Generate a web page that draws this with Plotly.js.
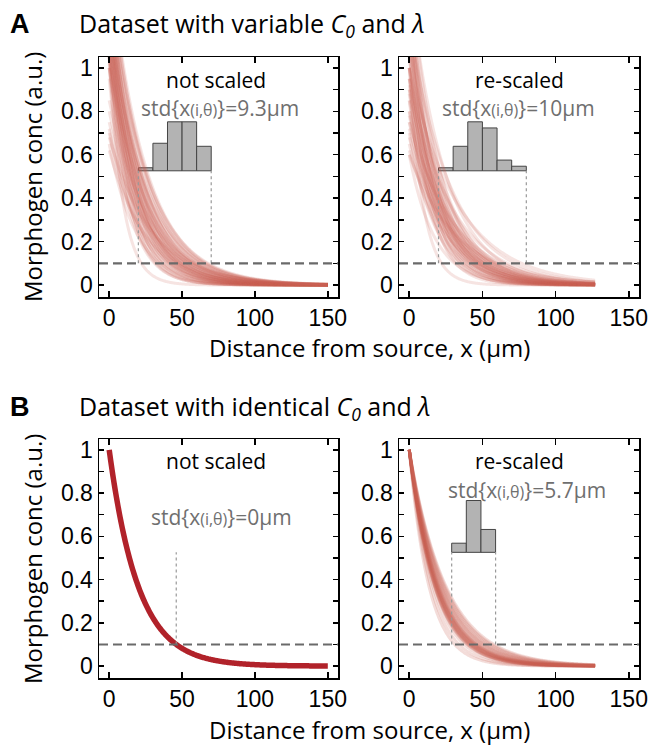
<!DOCTYPE html>
<html>
<head>
<meta charset="utf-8">
<script src="https://cdn.plot.ly/plotly-3.0.1.min.js"></script>
<style>html,body{margin:0;padding:0;background:#fff;}#chart{width:650px;height:746px;}</style>
</head>
<body>
<div id="chart"></div>
<script>
// ---------- data ----------
// Panel A, not scaled: amplitude C0 and decay length lambda of each profile
const A1_C0 = [1.05,0.95,1.10,1.00,1.25,0.65,1.15,1.05,1.30,0.72,1.20,1.00,1.35,0.70,1.10,1.25,1.02,1.40,0.62,1.15,1.30,1.05,1.20,0.75,1.45,1.10,1.00,1.25,1.35,0.80,1.15,1.40,1.05,1.30,0.68,1.20,1.45,1.10,0.85,1.35,1.25,1.05,1.30,1.50,1.15,1.40,1.20,1.45,1.50,1.35];
const A1_lambda = [9.4,13.8,13.3,14.3,13.5,18.7,14.7,15.7,14.8,19.8,16.3,17.8,16.1,21.8,17.9,17.4,19.2,17.1,25.2,19.0,18.3,20.2,19.3,24.1,18.3,20.6,21.9,20.2,19.8,25.0,21.7,20.3,23.0,21.4,29.0,22.5,21.3,24.0,27.1,22.5,23.4,25.3,23.8,22.9,25.8,24.3,26.2,24.7,24.7,26.1];
const A1_xmax = 150;
// Panel A, re-scaled
const A2_C0 = [1.00,0.60,1.10,0.85,1.25,0.70,1.00,0.90,1.30,0.65,1.05,0.80,1.20,0.95,1.40,0.75,1.10,0.88,1.15,0.62,1.30,1.00,0.78,1.25,0.92,1.05,0.68,1.35,0.85,1.20,0.95,0.72,1.45,1.00,0.80,1.15,0.90,1.30,0.60,1.10,0.75,1.40,0.95,1.20,1.00];
const A2_lambda = [9.6,17.3,13.3,15.7,13.9,18.5,16.1,17.3,15.2,21.6,17.4,20.2,17.1,19.1,16.7,22.1,18.8,21.1,19.0,25.8,18.5,20.8,23.6,19.4,22.3,21.5,26.6,19.8,24.3,21.3,23.8,27.4,20.6,24.3,27.4,23.5,26.6,23.0,33.2,25.4,31.3,24.6,29.8,29.0,33.4];
const A2_xmax = 127;
// Panel B, not scaled: identical profiles
const B1_C0 = 1.0;
const B1_lambda = 20.0;
const B1_xmax = 150;
const B1_threshold_x = 46;
// Panel B, re-scaled
const B2_C0 = 1.0;
const B2_lambda = [13.5,14.8,16.3,17.2,17.4,17.6,17.8,18.0,18.2,18.5,18.7,18.9,19.1,19.3,19.5,19.8,20.0,20.2,20.6,21.1,21.7,22.1,22.6,23.2,23.9,24.5,25.2];
const B2_xmax = 127;
// threshold
const threshold = 0.1;
// histograms of threshold positions
const histA1_edges = [20,30,40,50,60,70];
const histA1_counts = [1,9,16,16,8];
const histA2_edges = [20,30,40,50,60,70,80];
const histA2_counts = [1,8,16,14,3.5,1.5];
const histB2_edges = [29,39,49,59];
const histB2_counts = [3,17,7.5];
// texts
const stdTexts = ['9.3','10','0','5.7'];
const panelLabels = ['not scaled','re-scaled','not scaled','re-scaled'];
const xTicks = [0,50,100,150];

// ---------- styling ----------
const histBase = 0.526;
const histScale = 0.0141;
const curveColor = 'rgba(200,96,84,0.17)';
const textFont = 'Open Sans, Noto Sans, sans-serif';
const tickFont = 'Liberation Sans, Arial, sans-serif';

function profile(C0, lam, xmax) {
  const xs = [], ys = [];
  for (let x = 0; x <= xmax; x += 0.5) { xs.push(x); ys.push(C0 * Math.exp(-x / lam)); }
  return {xs, ys};
}

const traces = [];
function addCurves(C0s, lams, xmax, ax, color, width) {
  lams.forEach((lam, i) => {
    const c0 = Array.isArray(C0s) ? C0s[i] : C0s;
    const p = profile(c0, lam, xmax);
    traces.push({type:'scatter', mode:'lines', x:p.xs, y:p.ys, xaxis:'x'+ax, yaxis:'y'+ax,
      line:{color:color, width:width, simplify:false}, hoverinfo:'skip', showlegend:false});
  });
}
addCurves(A1_C0, A1_lambda, A1_xmax, '', curveColor, 3);
addCurves(A2_C0, A2_lambda, A2_xmax, '2', curveColor, 3);
addCurves(B1_C0, [B1_lambda], B1_xmax, '3', '#b1222a', 5.5);
addCurves(B2_C0, B2_lambda, B2_xmax, '4', 'rgba(200,96,84,0.22)', 3);

const shapes = [];
function addHist(edges, counts, ax) {
  const xs = [], ws = [], hs = [];
  for (let i = 0; i < counts.length; i++) {
    xs.push((edges[i] + edges[i+1]) / 2);
    ws.push(edges[i+1] - edges[i]);
    hs.push(counts[i] * histScale);
  }
  traces.push({type:'bar', x:xs, y:hs, width:ws, base:histBase, xaxis:'x'+ax, yaxis:'y'+ax,
    marker:{color:'#b3b3b3', line:{color:'#444', width:1}}, hoverinfo:'skip', showlegend:false});
  [edges[0], edges[edges.length-1]].forEach(e => {
    shapes.push({type:'line', xref:'x'+ax, yref:'y'+ax, x0:e, x1:e, y0:threshold, y1:histBase,
      line:{color:'#999', width:1.2, dash:'3px,3px'}});
  });
}
addHist(histA1_edges, histA1_counts, '');
addHist(histA2_edges, histA2_counts, '2');
addHist(histB2_edges, histB2_counts, '4');
shapes.push({type:'line', xref:'x3', yref:'y3', x0:B1_threshold_x, x1:B1_threshold_x, y0:threshold, y1:histBase,
  line:{color:'#999', width:1.2, dash:'3px,3px'}});

['', '2', '3', '4'].forEach(ax => {
  shapes.push({type:'line', xref:'x'+(ax)+' domain', yref:'y'+ax, x0:0, x1:1, y0:threshold, y1:threshold,
    line:{color:'#6a6a6a', width:2.2, dash:'9px,5px'}});
});

function xAxis(domain, anchor) {
  return {domain:domain, anchor:anchor, range:[-7,157], tickvals:xTicks, ticks:'inside', ticklen:6,
    tickwidth:1.5, tickcolor:'#000', mirror:'allticks', showline:true, linecolor:'#000', linewidth:1.5,
    showgrid:false, zeroline:false, tickfont:{family:tickFont, size:23, color:'#000'}};
}
function yAxis(domain, anchor) {
  return {domain:domain, anchor:anchor, range:[-0.055,1.05], tick0:0, dtick:0.2,
    ticks:'inside', ticklen:5, tickwidth:1.5, tickcolor:'#000', mirror:'allticks', showline:true,
    minor:{tick0:0, dtick:0.1, ticks:'inside', ticklen:5, tickwidth:1.5, tickcolor:'#000', showgrid:false},
    linecolor:'#000', linewidth:1.5, showgrid:false, zeroline:false,
    tickfont:{family:tickFont, size:23, color:'#000'}};
}
const W = 650, H = 746;
const px = v => v / W, py = v => 1 - v / H;
const colL = [px(99), px(338)], colR = [px(399), px(639)];
const rowT = [py(297), py(57)], rowB = [py(678), py(439)];

const annotations = [];
function txt(x, y, text, size, opts) {
  annotations.push(Object.assign({xref:'paper', yref:'paper', x:px(x), y:py(y), text:text, showarrow:false,
    xanchor:'center', yanchor:'middle', borderpad:0, font:{family:textFont, size:size, color:'#000'}}, opts || {}));
}
const boldFont = {family:'Liberation Sans, Arial', size:27, color:'#000'};
txt(9, 24, '<b>A</b>', 27, {xanchor:'left', font:boldFont});
txt(78, 24, 'Dataset with variable <i>C<sub>0</sub></i> and <i>λ</i>', 25, {xanchor:'left'});
txt(9, 407, '<b>B</b>', 27, {xanchor:'left', font:boldFont});
txt(78, 407, 'Dataset with identical <i>C<sub>0</sub></i> and <i>λ</i>', 25, {xanchor:'left'});
txt(369, 347, 'Distance from source, x (µm)', 24);
txt(369, 729, 'Distance from source, x (µm)', 24);
txt(32, 177, 'Morphogen conc (a.u.)', 24, {textangle:-90});
txt(32, 559, 'Morphogen conc (a.u.)', 24, {textangle:-90});
const labelPos = [[216,80],[519,80],[216,461],[519,461]];
const stdPos = [[220,108],[518,108],[221,517],[527,490]];
panelLabels.forEach((t, i) => txt(labelPos[i][0], labelPos[i][1], t, 21));
stdTexts.forEach((v, i) => txt(stdPos[i][0], stdPos[i][1],
  'std{x<span style="font-size:16px">(i,θ)</span>}=' + v + 'µm', 21,
  {font:{family:textFont, size:21, color:'#6f6f6f'}}));

const layout = {
  width:W, height:H, margin:{l:0, r:0, t:0, b:0}, paper_bgcolor:'#fff', plot_bgcolor:'#fff',
  showlegend:false, barmode:'overlay',
  xaxis:xAxis(colL,'y'), yaxis:yAxis(rowT,'x'),
  xaxis2:xAxis(colR,'y2'), yaxis2:yAxis(rowT,'x2'),
  xaxis3:xAxis(colL,'y3'), yaxis3:yAxis(rowB,'x3'),
  xaxis4:xAxis(colR,'y4'), yaxis4:yAxis(rowB,'x4'),
  shapes:shapes, annotations:annotations
};
Plotly.newPlot('chart', traces, layout, {staticPlot:true});
</script>
</body>
</html>
